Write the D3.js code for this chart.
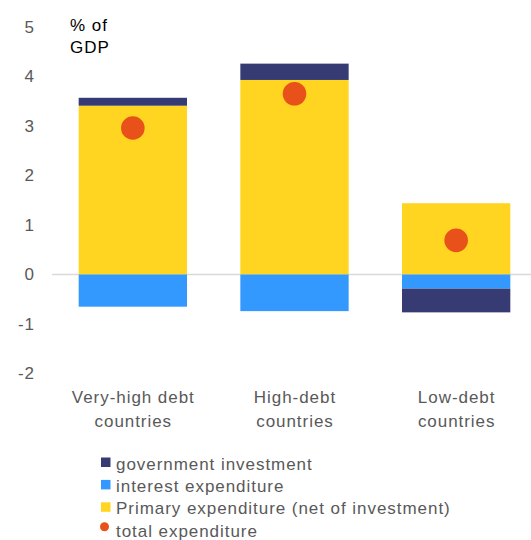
<!DOCTYPE html>
<html><head><meta charset="utf-8">
<script src="https://cdn.jsdelivr.net/npm/d3@7"></script>
<style>body{margin:0;background:#fff;} svg text{font-family:"Liberation Sans",Arial,sans-serif;}</style>
</head><body>
<svg id="c" width="531" height="540"></svg>
<script>
const categories = [["Very-high debt","countries"],["High-debt","countries"],["Low-debt","countries"]];
const primary = [3.41, 3.93, 1.44];
const interest = [-0.65, -0.74, -0.285];
const investment = [0.16, 0.33, -0.48];
const total = [2.96, 3.65, 0.69];
const yTicks = [-2,-1,0,1,2,3,4,5];
const seriesNames = ["government investment","interest expenditure","Primary expenditure (net of investment)","total expenditure"];
const colors = {inv:"#363c73", int:"#3399ff", prim:"#ffd522", tot:"#e8511a"};

const svg = d3.select("#c");
const y = d3.scaleLinear().domain([-2,5]).range([373.5,27]);
const x = d3.scaleBand().domain(d3.range(3)).range([52,537]).paddingInner(0.33).paddingOuter(0.165);
const LS = 0.95;

// zero line
svg.append("line").attr("x1",52).attr("x2",531).attr("y1",y(0)).attr("y2",y(0))
  .attr("stroke","#d9d9d9").attr("stroke-width",1.5);

// stacked bars
d3.range(3).forEach(i=>{
  const segs = [];
  let pos=0, neg=0;
  [[primary[i],colors.prim],[interest[i],colors.int],[investment[i],colors.inv]].forEach(([v,c])=>{
    if(v>=0){segs.push([pos,pos+v,c]);pos+=v;} else {segs.push([neg+v,neg,c]);neg+=v;}
  });
  segs.forEach(([a,b,c])=>{
    svg.append("rect").attr("x",x(i)).attr("width",x.bandwidth())
      .attr("y",y(b)).attr("height",y(a)-y(b)).attr("fill",c);
  });
});
// dots
svg.selectAll("circle.tot").data(total).join("circle").attr("class","tot")
  .attr("cx",(d,i)=>x(i)+x.bandwidth()/2).attr("cy",d=>y(d)).attr("r",11.8).attr("fill",colors.tot);

// y axis labels
const ya = svg.append("g").attr("transform","translate(34,0)")
  .call(d3.axisLeft(y).tickValues(yTicks).tickSize(0).tickPadding(0).tickFormat(d=>String(d)));
ya.select(".domain").remove();
ya.attr("font-family",null);
ya.selectAll("text").attr("font-size",17).attr("fill","#595959").attr("letter-spacing",LS).attr("dx",LS);

// unit label
svg.append("text").attr("x",70).attr("y",31).attr("font-size",17).attr("letter-spacing",LS).attr("fill","#000").text("% of");
svg.append("text").attr("x",70).attr("y",53).attr("font-size",17).attr("letter-spacing",LS).attr("fill","#000").text("GDP");

// category labels
categories.forEach((lines,i)=>{
  lines.forEach((t,j)=>{
    svg.append("text").attr("x",x(i)+x.bandwidth()/2+LS/2).attr("y",403+j*23.5)
      .attr("text-anchor","middle").attr("font-size",17).attr("letter-spacing",LS).attr("fill","#595959").text(t);
  });
});

// legend
const lg = [[seriesNames[0],colors.inv,"sq"],[seriesNames[1],colors.int,"sq"],[seriesNames[2],colors.prim,"sq"],[seriesNames[3],colors.tot,"dot"]];
lg.forEach(([t,c,k],i)=>{
  const by = 469.5 + i*22.4;
  if(k==="sq") svg.append("rect").attr("x",101).attr("y",by-12).attr("width",9.5).attr("height",9.5).attr("fill",c);
  else svg.append("circle").attr("cx",104.5).attr("cy",by-10).attr("r",4.5).attr("fill",c);
  svg.append("text").attr("x",116).attr("y",by).attr("font-size",17).attr("letter-spacing",LS).attr("fill","#595959").text(t);
});
</script>
</body></html>
